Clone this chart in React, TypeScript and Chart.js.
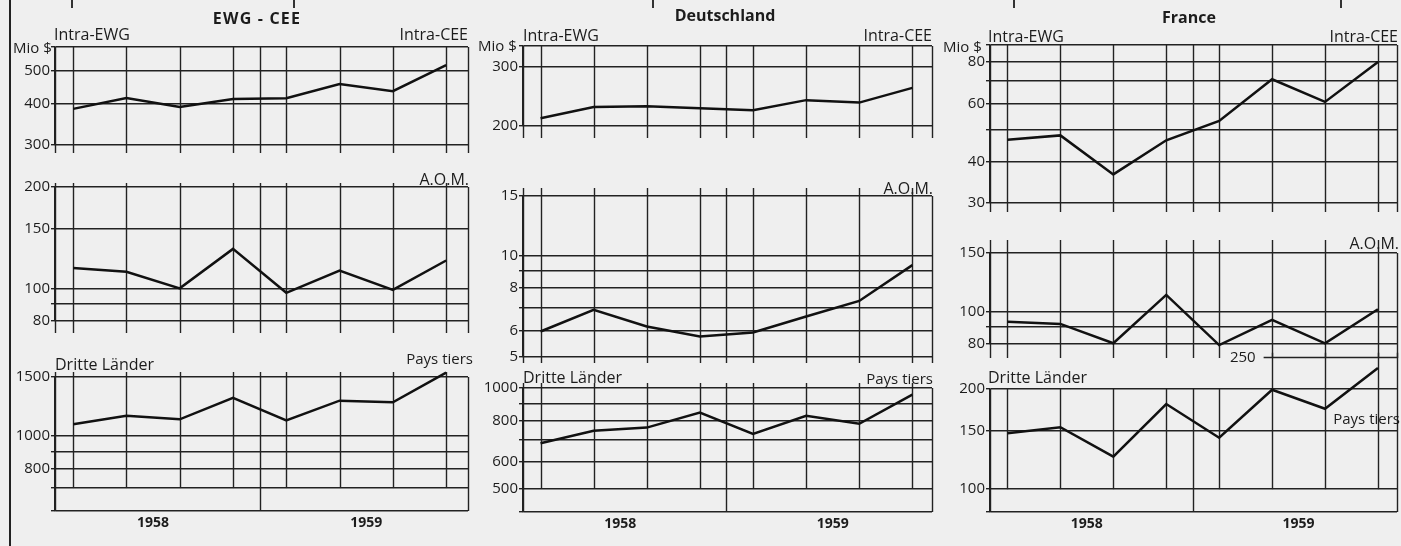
import React, { useEffect, useRef } from 'react';
import { Chart, registerables } from 'chart.js';

Chart.register(...registerables);

// ---------- data ----------
const quarters = ['1958 I', '1958 II', '1958 III', '1958 IV', '1959 I', '1959 II', '1959 III', '1959 IV'];
const yearLabels = ['1958', '1959'];

// EWG - CEE (Mio $)
const ewgIntra = [385, 415, 390, 412, 414, 457, 435, 521];
const ewgAom = [115, 112, 100, 131, 97, 113, 99, 121];
const ewgThird = [1084, 1149, 1122, 1301, 1114, 1275, 1261, 1545];
// Deutschland
const deIntra = [211, 228, 229, 226, 223, 239, 235, 260];
const deAom = [5.95, 6.9, 6.16, 5.75, 5.91, 6.59, 7.33, 9.36];
const deThird = [683, 744, 761, 844, 728, 825, 781, 955];
// France
const frIntra = [46.6, 48.0, 36.6, 46.4, 53.1, 70.9, 60.6, 80];
const frAom = [93.3, 91.9, 80.4, 112.3, 79.4, 94.5, 80.4, 101.7];
const frThird = [147.2, 153.5, 125.2, 180.2, 142.8, 199, 174.4, 231.4];

// grid values (log scale) and tick labels
const ewgIntraGrid = [300, 400, 500, 590];
const ewgIntraTicks = [300, 400, 500];
const ewgAomGrid = [80, 90, 100, 150, 200];
const ewgAomTicks = [80, 100, 150, 200];
const ewgThirdGrid = [598, 700, 800, 900, 1000, 1500];
const ewgThirdTicks = [800, 1000, 1500];

const deIntraGrid = [200, 300, 347];
const deIntraTicks = [200, 300];
const deAomGrid = [5, 6, 7, 8, 9, 10, 15];
const deAomTicks = [5, 6, 8, 10, 15];
const deThirdGrid = [425, 500, 600, 700, 800, 900, 1000];
const deThirdTicks = [500, 600, 800, 1000];

const frIntraGrid = [30, 40, 50, 60, 70, 80, 90];
const frIntraTicks = [30, 40, 60, 80];
const frAomGrid = [80, 90, 100, 150];
const frAomTicks = [80, 100, 150];
const frThirdGrid = [85.4, 100, 150, 200];
const frThirdTicks = [100, 150, 200];
const frThirdExtra = 250;

const FONT = "'Open Sans', 'DejaVu Sans', sans-serif";
const INK = '#1c1c1c';
const GRID = '#222';

type Panel = {
  id: string;
  data: number[];
  grid: number[];
  ticks: number[];
  min: number;
  max: number;
  left: number;
  right: number;
  top: number;
  bottom: number;
  xMin: number;
  xMax: number;
  extTop: number;
  extBot: number;
  stopAt?: number;
  years?: boolean;
  partial?: { value: number; from: number };
};

const C1 = { left: 55, right: 468, xMin: -0.34, xMax: 7.41 };
const C2 = { left: 523, right: 932, xMin: -0.33, xMax: 7.37 };
const C3 = { left: 990, right: 1397, xMin: -0.33, xMax: 7.36 };

const panels: Panel[] = [
  { id: 'e1', data: ewgIntra, grid: ewgIntraGrid, ticks: ewgIntraTicks, min: 300, max: 590, ...C1, top: 47, bottom: 145, extTop: 0, extBot: 8 },
  { id: 'e2', data: ewgAom, grid: ewgAomGrid, ticks: ewgAomTicks, min: 80, max: 200, ...C1, top: 187, bottom: 321, extTop: 4, extBot: 12 },
  { id: 'e3', data: ewgThird, grid: ewgThirdGrid, ticks: ewgThirdTicks, min: 598, max: 1500, ...C1, top: 377, bottom: 511, extTop: 5, extBot: 0, stopAt: 700, years: true },
  { id: 'd1', data: deIntra, grid: deIntraGrid, ticks: deIntraTicks, min: 200, max: 347, ...C2, top: 46, bottom: 126, extTop: 0, extBot: 12 },
  { id: 'd2', data: deAom, grid: deAomGrid, ticks: deAomTicks, min: 5, max: 15, ...C2, top: 196, bottom: 357, extTop: 8, extBot: 6 },
  { id: 'd3', data: deThird, grid: deThirdGrid, ticks: deThirdTicks, min: 425, max: 1000, ...C2, top: 388, bottom: 512, extTop: 5, extBot: 0, stopAt: 500, years: true },
  { id: 'f1', data: frIntra, grid: frIntraGrid, ticks: frIntraTicks, min: 30, max: 90, ...C3, top: 45, bottom: 203, extTop: 0, extBot: 9 },
  { id: 'f2', data: frAom, grid: frAomGrid, ticks: frAomTicks, min: 80, max: 150, ...C3, top: 253, bottom: 344, extTop: 13, extBot: 14 },
  { id: 'f3', data: frThird, grid: frThirdGrid, ticks: frThirdTicks, min: 85.4, max: 200, ...C3, top: 389, bottom: 512, extTop: 0, extBot: 0, stopAt: 100, years: true, partial: { value: frThirdExtra, from: 4.84 } },
];

type Label = { text: string; x: number; cy: number; align: 'left' | 'right' | 'center'; bold?: boolean; size?: number; ls?: number };
const labels: Label[] = [
  { text: 'EWG - CEE', x: 257, cy: 19, align: 'center', bold: true, size: 16, ls: 1.2 },
  { text: 'Deutschland', x: 725, cy: 16, align: 'center', bold: true, size: 16 },
  { text: 'France', x: 1189, cy: 18, align: 'center', bold: true, size: 16 },
  { text: 'Mio $', x: 13, cy: 48, align: 'left' },
  { text: 'Mio $', x: 478, cy: 46, align: 'left' },
  { text: 'Mio $', x: 943, cy: 47, align: 'left' },
  { text: 'Intra-EWG', x: 54, cy: 35, align: 'left', size: 16 },
  { text: 'Intra-EWG', x: 523, cy: 35.5, align: 'left', size: 16 },
  { text: 'Intra-EWG', x: 988, cy: 36.5, align: 'left', size: 16 },
  { text: 'Intra-CEE', x: 468, cy: 35, align: 'right', size: 16 },
  { text: 'Intra-CEE', x: 932, cy: 35.5, align: 'right', size: 16 },
  { text: 'Intra-CEE', x: 1398, cy: 36.5, align: 'right', size: 16 },
  { text: 'A.O.M.', x: 469, cy: 180, align: 'right', size: 16 },
  { text: 'A.O.M.', x: 933, cy: 188.5, align: 'right', size: 16 },
  { text: 'A.O.M.', x: 1399, cy: 244, align: 'right', size: 16 },
  { text: 'Dritte Länder', x: 55, cy: 364.5, align: 'left', size: 16 },
  { text: 'Dritte Länder', x: 523, cy: 378, align: 'left', size: 16 },
  { text: 'Dritte Länder', x: 988, cy: 378, align: 'left', size: 16 },
  { text: 'Pays tiers', x: 473, cy: 359.5, align: 'right' },
  { text: 'Pays tiers', x: 933, cy: 379, align: 'right' },
  { text: 'Pays tiers', x: 1400, cy: 419.5, align: 'right' },
];

const PAD_L = 52;
const PAD_T = 40;
const PAD_R = 12;

function PanelChart({ p }: { p: Panel }) {
  const ref = useRef<HTMLCanvasElement | null>(null);
  const bottomSpace = p.years ? 36 : 22;
  const w = p.right - p.left + PAD_L + PAD_R;
  const h = p.bottom - p.top + PAD_T + bottomSpace;

  useEffect(() => {
    const canvas = ref.current;
    if (!canvas) return;
    const frame = {
      id: 'frame' + p.id,
      beforeDatasetsDraw(chart: any) {
        const { ctx, chartArea: a, scales } = chart;
        const xs = scales.x;
        const ys = scales.y;
        ctx.save();
        ctx.strokeStyle = GRID;
        ctx.lineWidth = 1.4;
        const line = (x1: number, y1: number, x2: number, y2: number) => {
          ctx.beginPath();
          ctx.moveTo(x1, y1);
          ctx.lineTo(x2, y2);
          ctx.stroke();
        };
        const partialY = p.partial ? ys.getPixelForValue(p.partial.value) : 0;
        const stopY = p.stopAt ? ys.getPixelForValue(p.stopAt) : a.bottom + p.extBot;
        for (let i = 0; i < quarters.length; i++) {
          const x = Math.round(xs.getPixelForValue(i)) + 0.5;
          let y0 = a.top - p.extTop;
          if (p.partial && i >= p.partial.from) y0 = partialY - 4;
          line(x, y0, x, stopY);
        }
        const xd = Math.round(xs.getPixelForValue(3.5)) + 0.5;
        line(xd, a.top - p.extTop, xd, a.bottom + (p.stopAt ? 0 : p.extBot));
        const xr = Math.round(a.right) + 0.5;
        line(xr, p.partial ? partialY - 4 : a.top, xr, a.bottom + (p.stopAt ? 0 : p.extBot));
        const xl = Math.round(a.left) + 0.5;
        line(xl, a.top - p.extTop, xl, a.bottom + (p.stopAt ? 0 : p.extBot));
        if (p.partial) {
          const xp = xs.getPixelForValue(p.partial.from);
          line(xp, Math.round(partialY) + 0.5, a.right, Math.round(partialY) + 0.5);
          ctx.fillStyle = INK;
          ctx.font = `15px ${FONT}`;
          ctx.textAlign = 'right';
          ctx.textBaseline = 'middle';
          ctx.fillText(String(p.partial.value), xp - 8, partialY + 1);
        }
        ctx.restore();
      },
    };

    const chart = new Chart(canvas, {
      type: 'line',
      data: {
        labels: quarters,
        datasets: [
          {
            data: p.data.map((v, i) => ({ x: i, y: v })),
            borderColor: '#111',
            borderWidth: 2.5,
            pointRadius: 0,
            tension: 0,
            fill: false,
            clip: false as any,
          },
        ],
      },
      options: {
        animation: false,
        responsive: false,
        devicePixelRatio: 1,
        events: [],
        layout: { padding: { left: 0, top: PAD_T, right: PAD_R, bottom: p.years ? 6 : bottomSpace } },
        plugins: { legend: { display: false }, tooltip: { enabled: false }, title: { display: false } },
        scales: {
          x: {
            type: 'linear',
            min: p.xMin,
            max: p.xMax,
            bounds: 'data',
            display: true,
            grid: { display: false, drawTicks: false },
            border: { display: false },
            ticks: {
              display: !!p.years,
              padding: 4,
              color: INK,
              font: { family: FONT, size: 14, weight: 'bold' },
              maxRotation: 0,
              autoSkip: false,
              callback: (v: any) => (Number(v) < 3.5 ? yearLabels[0] : yearLabels[1]),
            },
            afterBuildTicks: (s: any) => {
              s.ticks = [{ value: 1.5 }, { value: 5.5 }];
            },
            afterFit: (s: any) => {
              s.height = p.years ? bottomSpace - 6 : 0;
            },
          },
          y: {
            type: 'logarithmic',
            min: p.min,
            max: p.max,
            bounds: 'data',
            grid: { color: GRID, lineWidth: 1.4, drawTicks: true, tickLength: 4 },
            border: { display: true, color: GRID, width: 1.6 },
            ticks: {
              autoSkip: false,
              padding: 1,
              color: INK,
              font: { family: FONT, size: 15 },
              callback: (v: any) => (p.ticks.includes(Number(v)) ? String(v) : ''),
            },
            afterBuildTicks: (s: any) => {
              s.ticks = p.grid.map((v) => ({ value: v }));
            },
            afterFit: (s: any) => {
              s.width = PAD_L;
            },
          },
        },
      },
      plugins: [frame],
    } as any);
    return () => chart.destroy();
  }, [p]);

  return (
    <canvas
      ref={ref}
      width={w}
      height={h}
      style={{ position: 'absolute', left: p.left - PAD_L, top: p.top - PAD_T, width: w, height: h }}
    />
  );
}

export default function App() {
  return (
    <div
      style={{
        position: 'absolute',
        left: 0,
        top: 0,
        width: 1401,
        height: 546,
        background: '#efefef',
        overflow: 'hidden',
        fontFamily: FONT,
        color: INK,
      }}
    >
      <div style={{ position: 'absolute', left: 9, top: 0, width: 2, height: 546, background: '#222' }} />
      {[71, 293, 652, 1013, 1340].map((x) => (
        <div key={x} style={{ position: 'absolute', left: x, top: 0, width: 1.5, height: 8, background: '#333' }} />
      ))}
      {panels.map((p) => (
        <PanelChart key={p.id} p={p} />
      ))}
      {labels.map((l, i) => {
        const size = l.size ?? 15;
        const style: React.CSSProperties = {
          position: 'absolute',
          top: l.cy - size * 0.55,
          fontSize: size,
          lineHeight: `${size}px`,
          fontWeight: l.bold ? 700 : 400,
          letterSpacing: l.ls ? `${l.ls}px` : undefined,
          whiteSpace: 'nowrap',
        };
        if (l.align === 'left') style.left = l.x;
        else if (l.align === 'right') style.right = 1401 - l.x;
        else {
          style.left = l.x;
          style.transform = 'translateX(-50%)';
        }
        return (
          <div key={i} style={style}>
            {l.text}
          </div>
        );
      })}
    </div>
  );
}
